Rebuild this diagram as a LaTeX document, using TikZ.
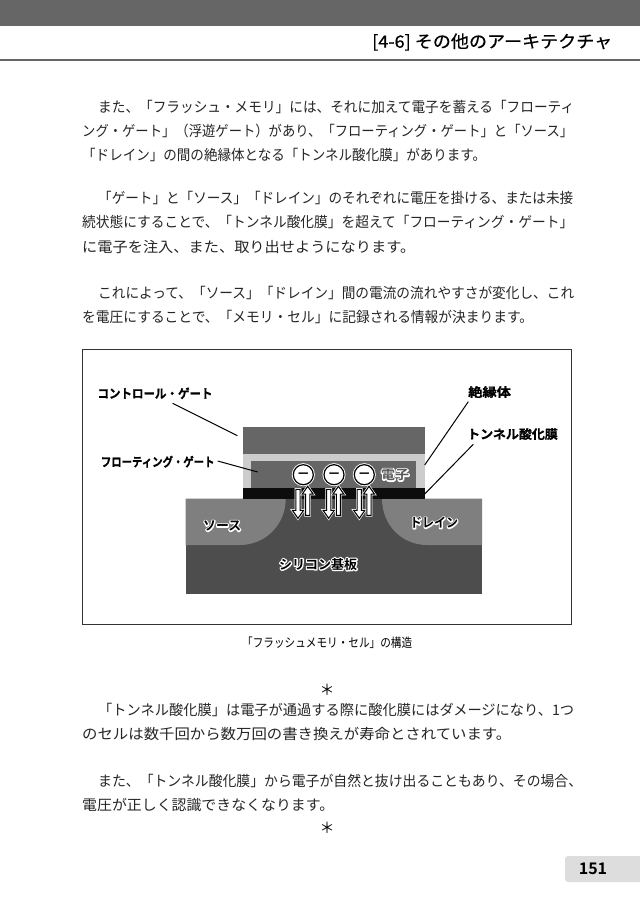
\documentclass[tikz,border=0pt]{standalone}
\usepackage{graphicx}
\usepackage{fontspec}
\newfontfamily\cjk{Noto Sans CJK JP}
\newfontfamily\cjkt[FakeBold=0.6]{Noto Sans CJK JP}
\newfontfamily\cjkb[FakeBold=0.8]{Noto Sans CJK JP Bold}
\newfontfamily\cjkm{Noto Sans CJK JP Bold}
\usetikzlibrary{shapes.arrows}
\definecolor{barcol}{HTML}{666666}
\definecolor{subcol}{HTML}{4D4D4D}
\definecolor{wellcol}{HTML}{7F7F7F}
\definecolor{gatecol}{HTML}{666666}
\definecolor{inscol}{HTML}{CCCCCC}
\definecolor{tabcol}{HTML}{DDDDDD}
\newcommand{\fitw}[2]{\resizebox{#1pt}{\height}{#2}}
\newcommand{\halotxt}[1]{\rlap{\special{pdf:code q 1 Tr 2.4 w 1 j 1 1 1 RG}#1\special{pdf:code Q}}#1}
\tikzset{
  bodyline/.style={anchor=west, inner sep=0pt, font=\cjk\fontsize{14.5}{14.5}\selectfont, text=black!85},
  partlabel/.style={anchor=west, inner sep=0pt, font=\cjkb\fontsize{12.5}{12.5}\selectfont},
  halolabel/.style={anchor=west, inner sep=0pt, font=\cjkm\fontsize{13}{13}\selectfont},
  leader/.style={draw=black, line width=1pt},
  electron/.style={circle, draw=black, fill=white, line width=1.2pt, minimum size=20pt, inner sep=0pt, preaction={draw=white, line width=3pt}},
  flowarrow/.style={single arrow, draw=black, fill=white, line width=1.05pt, minimum height=29pt, minimum width=11pt, inner sep=1.2pt, single arrow head extend=2.8pt, single arrow tip angle=70, preaction={draw=white, line width=2.4pt}}
}
\begin{document}
\begin{tikzpicture}[x=1pt,y=-1pt]
  \useasboundingbox (0,0) rectangle (640,908);
  \fill[white] (0,0) rectangle (640,908);
  \fill[barcol] (0,0) rectangle (640,26);
  \fill[barcol] (0,58.5) rectangle (640,60.5);
  \node[anchor=west, inner sep=0pt, font=\cjkt\fontsize{17}{17}\selectfont] (title) at (372,42) {\fitw{240}{[4-6] その他のアーキテクチャ}};

  \foreach \n/\yy/\xx/\ww/\txt in {
    1/107/98/476/また、「フラッシュ・メモリ」には、それに加えて電子を蓄える「フローティ,
    2/131/82/491/ング・ゲート」（浮遊ゲート）があり、「フローティング・ゲート」と「ソース」,
    3/155/82/404/「ドレイン」の間の絶縁体となる「トンネル酸化膜」があります。,
    4/198/98/475/「ゲート」と「ソース」「ドレイン」のそれぞれに電圧を掛ける、または未接,
    5/222/82/491/続状態にすることで、「トンネル酸化膜」を超えて「フローティング・ゲート」,
    6/247/82/333/に電子を注入、また、取り出せようになります。,
    7/293/98/476/これによって、「ソース」「ドレイン」間の電流の流れやすさが変化し、これ,
    8/317/82/451/を電圧にすることで、「メモリ・セル」に記録される情報が決まります。,
    9/710/98/476/「トンネル酸化膜」は電子が通過する際に酸化膜にはダメージになり、1つ,
    10/734/82/429/のセルは数千回から数万回の書き換えが寿命とされています。,
    11/781/98/484/また、「トンネル酸化膜」から電子が自然と抜け出ることもあり、その場合、,
    12/805/82/252/電圧が正しく認識できなくなります。}
    \node[bodyline] (body\n) at (\xx,\yy) {\fitw{\ww}{\txt}};
  \node[font=\cjk\fontsize{15}{15}\selectfont] (star1) at (327,690) {＊};
  \node[font=\cjk\fontsize{15}{15}\selectfont] (star2) at (327,828) {＊};

  \draw[black!80, line width=0.8pt] (82.5,349.5) rectangle (571,624);

  \fill[subcol] (185.7,498.7) rectangle (482,594.3);
  \fill[wellcol] (185.7,498.7) -- (285.7,498.7) .. controls (285.7,525) and (265,545) .. (240,545) -- (185.7,545) -- cycle;
  \fill[wellcol] (482,498.7) -- (382,498.7) .. controls (382,525) and (402,545) .. (427,545) -- (482,545) -- cycle;
  \fill[gatecol] (242.7,427) rectangle (424.7,454);
  \fill[inscol] (242.7,454) rectangle (424.7,488);
  \fill[gatecol] (251,461.3) rectangle (416,488);
  \fill[black!95] (242.7,488) rectangle (424.7,498.7);

  \foreach \n/\xx in {1/298,2/328.7,3/359.3} {
    \node[flowarrow, rotate=-90] (down\n) at (\xx,502.3) {};
    \node[flowarrow, rotate=90] (up\n) at ({\xx+9.7},502.3) {};
  }
  \node[electron] (E1) at (303.3,474.7) {\fitw{11.5}{\cjkm ー}};
  \node[electron] (E2) at (334,474.7) {\fitw{11.5}{\cjkm ー}};
  \node[electron] (E3) at (364.3,474.7) {\fitw{11.5}{\cjkm ー}};

  \node[partlabel] (CG) at (97.3,393.3) {\fitw{115}{コントロール・ゲート}};
  \node[partlabel] (FG) at (100.7,461.7) {\fitw{113.6}{フローティング・ゲート}};
  \node[partlabel] (INS) at (468,392) {\fitw{42.7}{絶縁体}};
  \node[partlabel] (TOX) at (467,434) {\fitw{90.7}{トンネル酸化膜}};
  \node[halolabel] (SRC) at (203,526) {\fitw{38}{\halotxt{ソース}}};
  \node[halolabel] (DRN) at (410,522.7) {\fitw{48}{\halotxt{ドレイン}}};
  \node[halolabel] (SUB) at (279,564.3) {\fitw{78}{\halotxt{シリコン基板}}};
  \node[halolabel, text=black!65] (ELE) at (381,475) {\fitw{28}{\halotxt{電子}}};

  \coordinate (CGa) at (172.7,403.3);
  \coordinate (CGb) at (237.3,435.7);
  \coordinate (FGa) at (217.7,461);
  \coordinate (FGb) at (257.7,472);
  \coordinate (INSa) at (468.3,401.7);
  \coordinate (INSb) at (424.7,465);
  \coordinate (TOXa) at (473.3,444.3);
  \coordinate (TOXb) at (424.7,494);
  \draw[leader] (CGa) -- (CGb);
  \draw[leader] (FGa) -- (FGb);
  \draw[leader] (INSa) -- (INSb);
  \draw[leader] (TOXa) -- (TOXb);

  \node[anchor=west, inner sep=0pt, font=\cjk\fontsize{12.5}{12.5}\selectfont] (caption) at (242,642.7) {\fitw{170}{「フラッシュメモリ・セル」の構造}};

  \fill[tabcol, rounded corners=3pt] (565,856) rectangle (660,882);
  \node[font=\cjkm\fontsize{16}{16}\selectfont, inner sep=0pt] (pageno) at (593,869) {151};
\end{tikzpicture}
\end{document}
